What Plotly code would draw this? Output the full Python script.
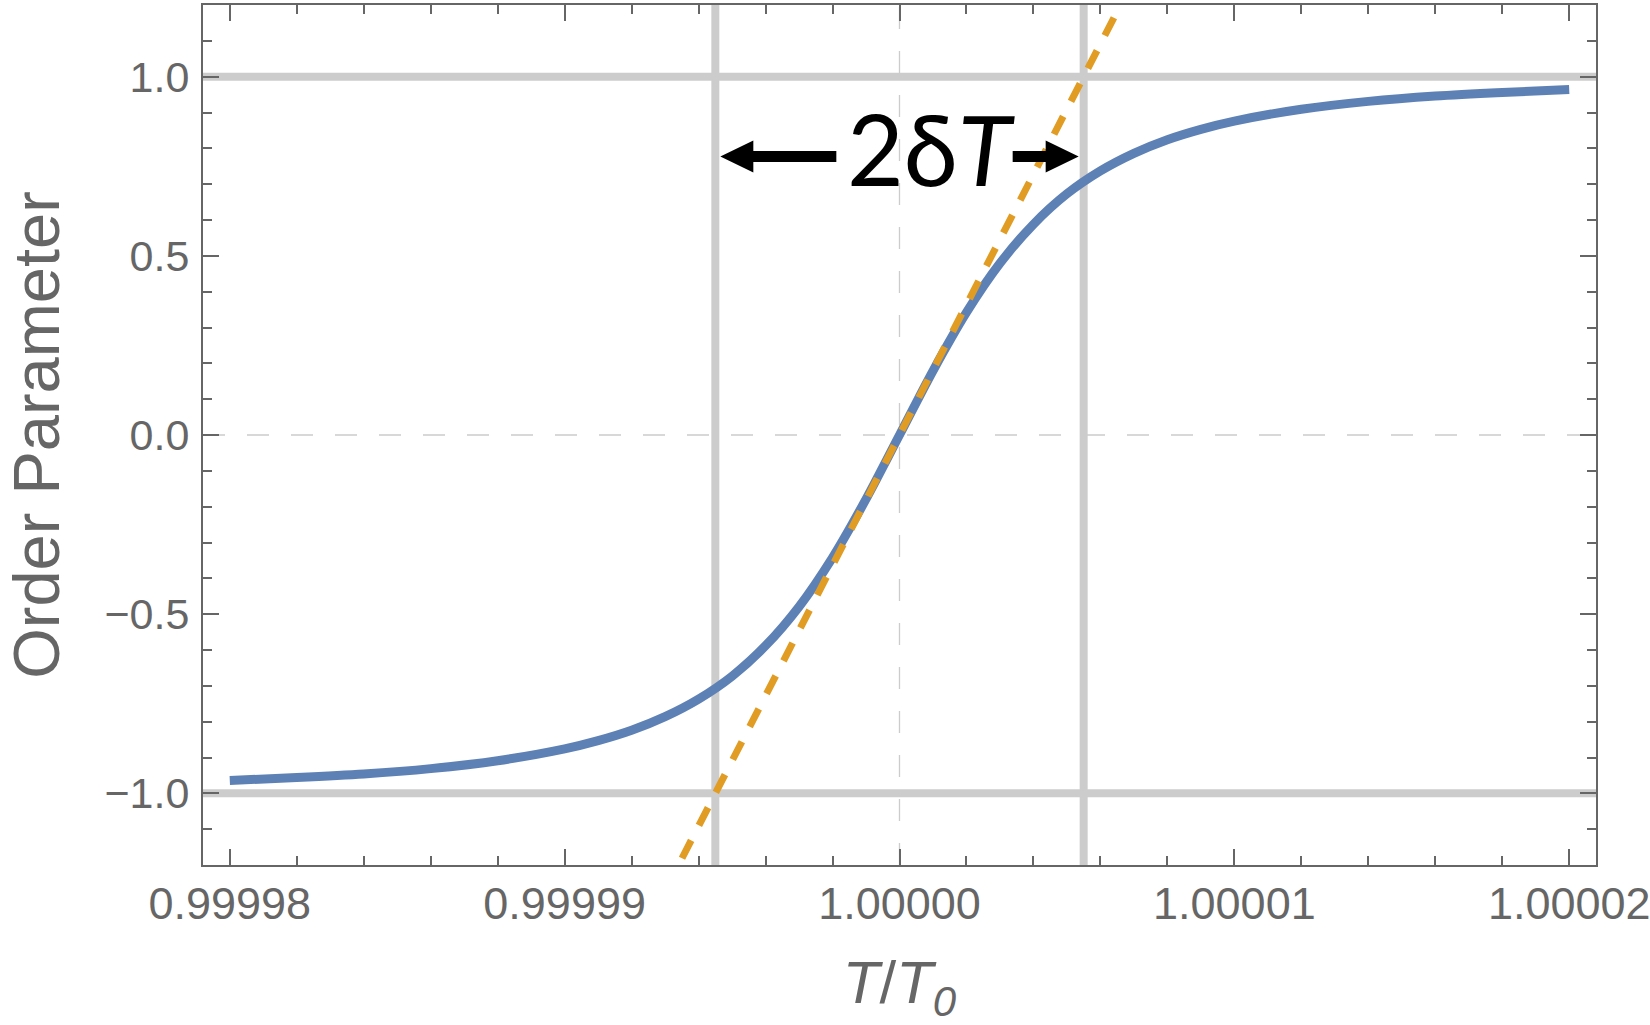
import plotly.graph_objects as go

# ---- data ----
t_ratio = [0.99998, 0.999982, 0.999984, 0.999986, 0.999988, 0.99999,
           0.999991, 0.999992, 0.999993, 0.999994, 0.999995, 0.999996,
           0.999997, 0.999998, 0.999999, 1.0,
           1.000001, 1.000002, 1.000003, 1.000004, 1.000005, 1.000006,
           1.000007, 1.000008, 1.000009, 1.00001, 1.000012, 1.000014,
           1.000016, 1.000018, 1.00002]
order_param = [-0.964, -0.956, -0.946, -0.931, -0.909, -0.876,
               -0.853, -0.824, -0.786, -0.737, -0.673, -0.588,
               -0.479, -0.342, -0.179, 0.0,
               0.179, 0.342, 0.479, 0.588, 0.673, 0.737,
               0.786, 0.824, 0.853, 0.876, 0.909, 0.931,
               0.946, 0.956, 0.964]

tangent_x = [0.999993, 1.000007]
tangent_y = [-1.273, 1.273]

delta_lines_x = [0.9999945, 1.0000055]
saturation_lines_y = [-1.0, 1.0]
center_x = 1.0
center_y = 0.0

x_tickvals = [0.99998, 0.99999, 1.0, 1.00001, 1.00002]
x_ticktext = ["0.99998", "0.99999", "1.00000", "1.00001", "1.00002"]
y_tickvals = [-1.0, -0.5, 0.0, 0.5, 1.0]
y_ticktext = ["\u22121.0", "\u22120.5", "0.0", "0.5", "1.0"]

x_range = [0.9999792, 1.0000208]
y_range = [-1.2, 1.2]

label_text = "2\u03b4<i>T</i>"
label_x = 1.00000094
label_y = 0.80
arrow_y = 0.777

BLUE = "#5E81B5"
ORANGE = "#E19C24"
GRID = "#CCCCCC"
AX = "#666666"

fig = go.Figure()

fig.add_trace(go.Scatter(x=t_ratio, y=order_param, mode="lines",
                         line=dict(color=BLUE, width=9, shape="spline", smoothing=0.8),
                         showlegend=False, hoverinfo="skip"))
fig.add_trace(go.Scatter(x=tangent_x, y=tangent_y, mode="lines",
                         line=dict(color=ORANGE, width=7, dash="20px,17px"),
                         showlegend=False, hoverinfo="skip"))

shapes = []
for xv in delta_lines_x:
    shapes.append(dict(type="line", xref="x", yref="paper", x0=xv, x1=xv, y0=0, y1=1,
                       line=dict(color=GRID, width=8), layer="below"))
for yv in saturation_lines_y:
    shapes.append(dict(type="line", xref="paper", yref="y", x0=0, x1=1, y0=yv, y1=yv,
                       line=dict(color=GRID, width=8), layer="below"))
shapes.append(dict(type="line", xref="x", yref="paper", x0=center_x, x1=center_x, y0=0, y1=1,
                   line=dict(color=GRID, width=1.3, dash="22px,22px"), layer="below"))
shapes.append(dict(type="line", xref="paper", yref="y", x0=0, x1=1, y0=center_y, y1=center_y,
                   line=dict(color=GRID, width=1.3, dash="22px,22px"), layer="below"))
# arrows of the 2δT label
shapes.append(dict(type="path", xref="x", yref="y", xsizemode="pixel", ysizemode="pixel",
                   xanchor=delta_lines_x[0], yanchor=arrow_y,
                   path="M5,0 L38,16 L38,5.5 L121,5.5 L121,-5.5 L38,-5.5 L38,-16 Z",
                   fillcolor="black", line=dict(width=0), layer="above"))
shapes.append(dict(type="path", xref="x", yref="y", xsizemode="pixel", ysizemode="pixel",
                   xanchor=delta_lines_x[1], yanchor=arrow_y,
                   path="M-5,0 L-38,16 L-38,5.5 L-71,5.5 L-71,-5.5 L-38,-5.5 L-38,-16 Z",
                   fillcolor="black", line=dict(width=0), layer="above"))

fig.update_layout(
    width=1650, height=1025,
    margin=dict(l=203, r=54, t=5, b=160),
    paper_bgcolor="white", plot_bgcolor="white",
    shapes=shapes,
    annotations=[dict(x=label_x, y=label_y, xref="x", yref="y", text=label_text,
                      showarrow=False, xanchor="center", yanchor="middle",
                      font=dict(family="Lato", size=98, color="black"))],
    font=dict(family="Liberation Sans", color=AX),
)

fig.update_xaxes(
    range=x_range, showgrid=False, zeroline=False,
    showline=True, linecolor=AX, linewidth=2, mirror="allticks",
    ticks="inside", ticklen=16, tickwidth=2, tickcolor=AX,
    tickvals=x_tickvals, ticktext=x_ticktext,
    tickfont=dict(family="Liberation Sans", size=45, color=AX),
    ticklabelstandoff=-2, ticklabeloverflow="allow",
    minor=dict(ticks="inside", ticklen=9, tickwidth=2, tickcolor=AX,
               tick0=0.99998, dtick=0.000002, showgrid=False),
    title=dict(text="<i>T</i>/<i>T</i><sub><i>0</i></sub>",
               font=dict(family="Liberation Sans", size=60, color=AX), standoff=51),
    automargin=False,
)
fig.update_yaxes(
    range=y_range, showgrid=False, zeroline=False,
    showline=True, linecolor=AX, linewidth=2, mirror="allticks",
    ticks="inside", ticklen=16, tickwidth=2, tickcolor=AX,
    tickvals=y_tickvals, ticktext=y_ticktext,
    tickfont=dict(family="Liberation Sans", size=43, color=AX),
    ticklabelstandoff=3, ticklabeloverflow="allow",
    minor=dict(ticks="inside", ticklen=9, tickwidth=2, tickcolor=AX,
               tick0=-1.2, dtick=0.1, showgrid=False),
    title=dict(text="Order Parameter",
               font=dict(family="Liberation Sans", size=65, color=AX), standoff=33),
    automargin=False,
)

fig.write_html("out.html", config={"displayModeBar": False},
               post_script="document.body.style.margin='0';")
